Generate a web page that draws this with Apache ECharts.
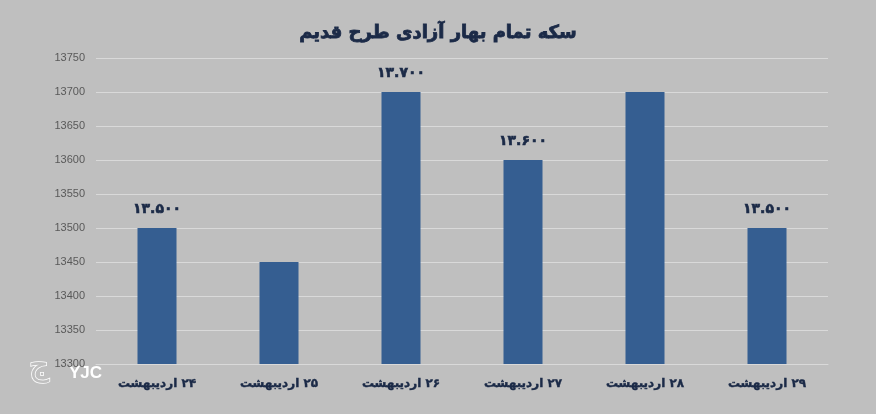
<!DOCTYPE html>
<html>
<head>
<meta charset="utf-8">
<script src="https://cdn.jsdelivr.net/npm/echarts@6/dist/echarts.min.js"></script>
<style>
html,body{margin:0;padding:0;background:#bfbfbf;}
#c{width:876px;height:414px;}
</style>
</head>
<body>
<div id="c"></div>
<script>
const titleText = 'سکه تمام بهار آزادی طرح قدیم';
const categories = ['۲۴ اردیبهشت','۲۵ اردیبهشت','۲۶ اردیبهشت','۲۷ اردیبهشت','۲۸ اردیبهشت','۲۹ اردیبهشت'];
const values = [13500, 13450, 13700, 13600, 13700, 13500];
const valueLabels = ['۱۳.۵۰۰', '', '۱۳.۷۰۰', '۱۳.۶۰۰', '', '۱۳.۵۰۰'];
const yMin = 13300, yMax = 13750, yStep = 50;

const chart = echarts.init(document.getElementById('c'), null, {renderer:'canvas'});
const RLE = '\u202B', PDF = '\u202C';
chart.setOption({
  backgroundColor: '#bfbfbf',
  animation: false,
  title: {
    text: titleText,
    left: 'center',
    top: 19,
    textStyle: {fontFamily: 'DejaVu Sans', fontWeight: 'bold', fontSize: 18, color: '#1b2a47',
      textBorderColor: '#1b2a47', textBorderWidth: 0.8}
  },
  grid: {left: 96, right: 48, top: 58, bottom: 50},
  xAxis: {
    type: 'category',
    data: categories,
    axisLine: {show: true, lineStyle: {color: '#d9d9d9', width: 1}},
    axisTick: {show: false},
    axisLabel: {
      margin: 14,
      fontFamily: 'DejaVu Sans', fontWeight: 'bold', fontSize: 12, color: '#1b2a47',
      textBorderColor: '#1b2a47', textBorderWidth: 0.4,
      formatter: v => RLE + v + PDF
    }
  },
  yAxis: {
    type: 'value',
    min: yMin, max: yMax, interval: yStep,
    axisLine: {show: false},
    axisTick: {show: false},
    axisLabel: {margin: 11, fontFamily: 'Liberation Sans', fontSize: 11, color: '#595959',
      formatter: v => String(v)},
    splitLine: {lineStyle: {color: '#d9d9d9', width: 1}}
  },
  series: [{
    type: 'bar',
    data: values,
    barWidth: 39,
    itemStyle: {color: '#355e91'},
    label: {
      show: true,
      position: 'top',
      distance: 12,
      fontFamily: 'DejaVu Sans', fontWeight: 'bold', fontSize: 14, color: '#1b2a47',
      textBorderColor: '#1b2a47', textBorderWidth: 0.6,
      formatter: p => valueLabels[p.dataIndex]
    }
  }],
  graphic: [
    {type:'text', left: 28, top: 350, style:{text:'ج', fontSize: 32, fontWeight:'normal', fill:'#bfbfbf', stroke:'#ffffff', lineWidth:1.5, fontFamily:'DejaVu Sans'}},
    {type:'text', left: 69, top: 365, style:{text:'YJC', fontSize: 17, fontWeight:'bold', fill:'#ffffff', fontFamily:'Liberation Sans', shadowColor:'rgba(0,0,0,0.5)', shadowBlur:3, shadowOffsetX:1, shadowOffsetY:1}}
  ]
});
</script>
</body>
</html>
